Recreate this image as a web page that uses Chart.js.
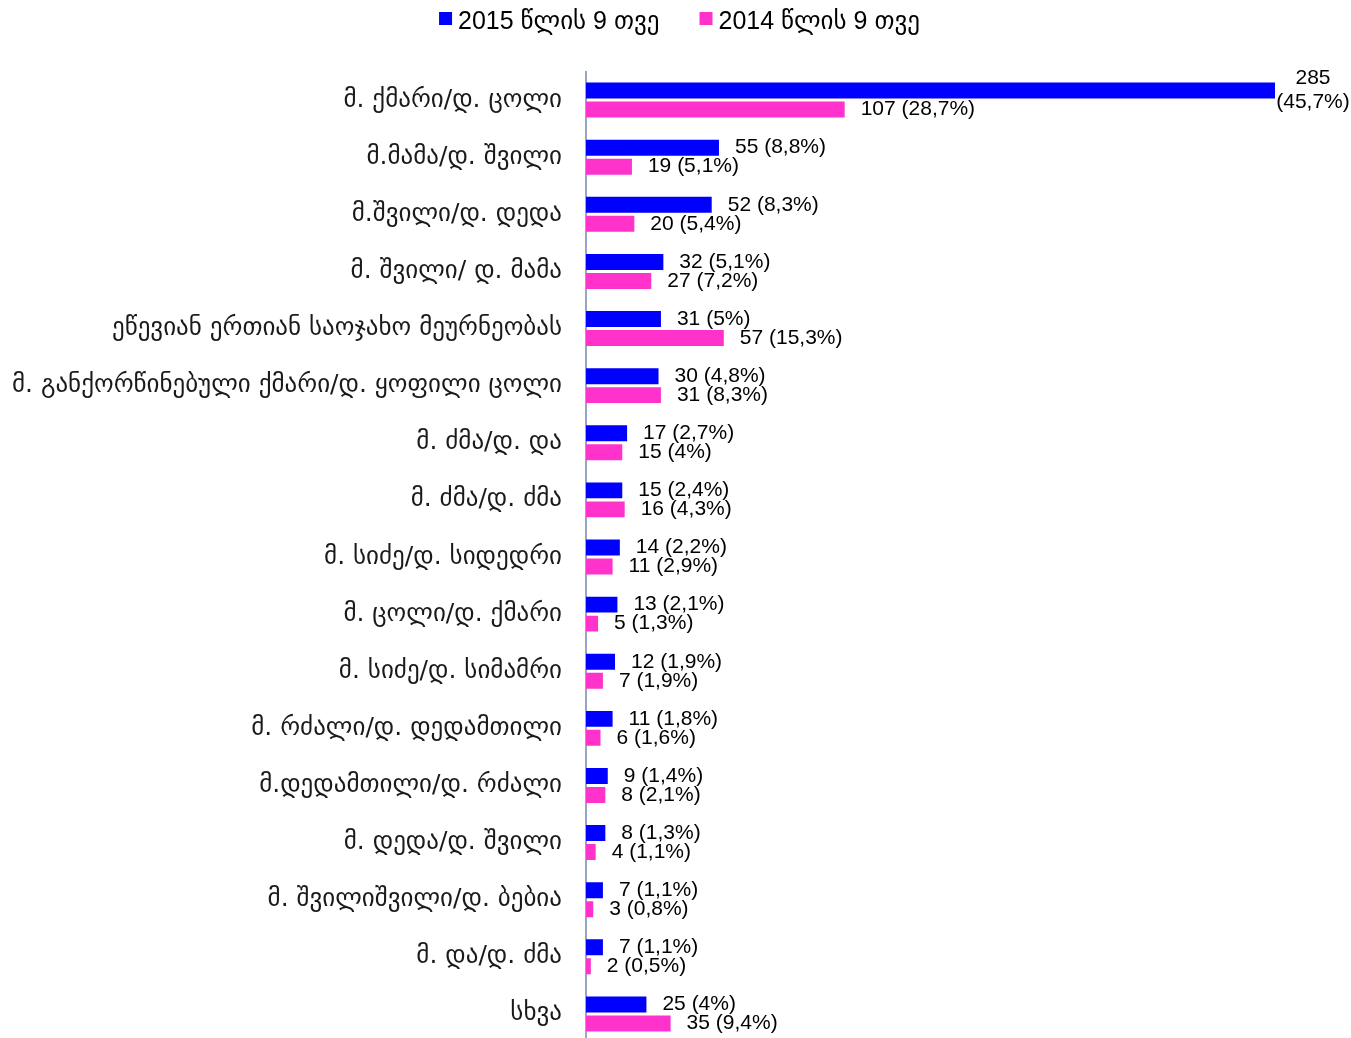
<!DOCTYPE html>
<html>
<head>
<meta charset="utf-8">
<script src="https://cdn.jsdelivr.net/npm/chart.js@4"></script>
<style>
  html, body { margin: 0; padding: 0; background: #fff; overflow: hidden; }
  #wrap { width: 1351px; height: 1044px; }
</style>
</head>
<body>
<div id="wrap"><canvas id="relChart" width="1351" height="1044"></canvas></div>
<script>
// --- data ---
const categories = [
    'მ. ქმარი/დ. ცოლი',
    'მ.მამა/დ. შვილი',
    'მ.შვილი/დ. დედა',
    'მ. შვილი/ დ. მამა',
    'ეწევიან ერთიან საოჯახო მეურნეობას',
    'მ. განქორწინებული ქმარი/დ. ყოფილი ცოლი',
    'მ. ძმა/დ. და',
    'მ. ძმა/დ. ძმა',
    'მ. სიძე/დ. სიდედრი',
    'მ. ცოლი/დ. ქმარი',
    'მ. სიძე/დ. სიმამრი',
    'მ. რძალი/დ. დედამთილი',
    'მ.დედამთილი/დ. რძალი',
    'მ. დედა/დ. შვილი',
    'მ. შვილიშვილი/დ. ბებია',
    'მ. და/დ. ძმა',
    'სხვა'
];
const values2015 = [285, 55, 52, 32, 31, 30, 17, 15, 14, 13, 12, 11, 9, 8, 7, 7, 25];
const pct2015 = ['45,7', '8,8', '8,3', '5,1', '5', '4,8', '2,7', '2,4', '2,2', '2,1', '1,9', '1,8', '1,4', '1,3', '1,1', '1,1', '4'];
const values2014 = [107, 19, 20, 27, 57, 31, 15, 16, 11, 5, 7, 6, 8, 4, 3, 2, 35];
const pct2014 = ['28,7', '5,1', '5,4', '7,2', '15,3', '8,3', '4', '4,3', '2,9', '1,3', '1,9', '1,6', '2,1', '1,1', '0,8', '0,5', '9,4'];
const seriesLabels = ['2015 წლის 9 თვე', '2014 წლის 9 თვე'];
const seriesColors = ['#0000FF', '#FF33CC'];

const LABEL_FONT = '21px "Liberation Sans", Arial, sans-serif';
const LEGEND_FONT = '25px "Liberation Sans", Arial, "DejaVu Sans", sans-serif';

// value labels to the right of each bar
const barLabels = {
    id: 'barLabels',
    afterDatasetsDraw(chart) {
        const ctx = chart.ctx;
        const pcts = [pct2015, pct2014];
        ctx.save();
        ctx.font = LABEL_FONT;
        ctx.fillStyle = '#000';
        ctx.textBaseline = 'middle';
        chart.data.datasets.forEach((ds, di) => {
            chart.getDatasetMeta(di).data.forEach((bar, i) => {
                const text = `${ds.data[i]} (${pcts[di][i]}%)`;
                const x = bar.x + 16;
                if (x + ctx.measureText(text).width > chart.width) {
                    // too long: split in two lines
                    ctx.textAlign = 'center';
                    ctx.fillText(String(ds.data[i]), bar.x + 38, bar.y - 12);
                    ctx.fillText(`(${pcts[di][i]}%)`, bar.x + 38, bar.y + 12);
                } else {
                    ctx.textAlign = 'left';
                    ctx.fillText(text, x, bar.y);
                }
            });
        });
        ctx.restore();
    }
};

// simple top legend with wider gap between items
const topLegend = {
    id: 'topLegend',
    afterDraw(chart) {
        const ctx = chart.ctx;
        ctx.save();
        ctx.font = LEGEND_FONT;
        ctx.textBaseline = 'middle';
        ctx.textAlign = 'left';
        const box = 13, gap = 6, spacing = 40;
        const widths = seriesLabels.map(t => box + gap + ctx.measureText(t).width);
        const total = widths.reduce((a, b) => a + b, 0) + spacing * (widths.length - 1);
        let x = (chart.width - total) / 2 + 4;
        const y = 22;
        seriesLabels.forEach((t, i) => {
            ctx.fillStyle = seriesColors[i];
            ctx.fillRect(x, y - 10, box, box);
            ctx.fillStyle = '#000';
            ctx.fillText(t, x + box + gap, y);
            x += widths[i] + spacing;
        });
        ctx.restore();
    }
};

new Chart(document.getElementById('relChart'), {
    type: 'bar',
    data: {
        labels: categories,
        datasets: [
            {
                label: seriesLabels[0],
                data: values2015,
                backgroundColor: seriesColors[0],
                categoryPercentage: 0.665,
                barPercentage: 0.84
            },
            {
                label: seriesLabels[1],
                data: values2014,
                backgroundColor: seriesColors[1],
                categoryPercentage: 0.665,
                barPercentage: 0.84
            }
        ]
    },
    options: {
        indexAxis: 'y',
        responsive: false,
        animation: false,
        layout: {
            padding: { top: 71.5, right: 76, bottom: 1.5, left: 0 }
        },
        plugins: {
            legend: { display: false },
            tooltip: { enabled: false }
        },
        scales: {
            x: {
                display: false,
                min: 0,
                max: 285
            },
            y: {
                grid: { display: false, drawTicks: false },
                border: { display: true, color: '#98A6C4', width: 2 },
                ticks: {
                    color: '#1a1a1a',
                    padding: 24,
                    font: { family: '"DejaVu Sans", sans-serif', size: 25 }
                },
                afterFit(scale) {
                    scale.width = 586;
                    scale.paddingTop = 0;
                    scale.paddingBottom = 0;
                }
            }
        }
    },
    plugins: [barLabels, topLegend]
});
</script>
</body>
</html>
